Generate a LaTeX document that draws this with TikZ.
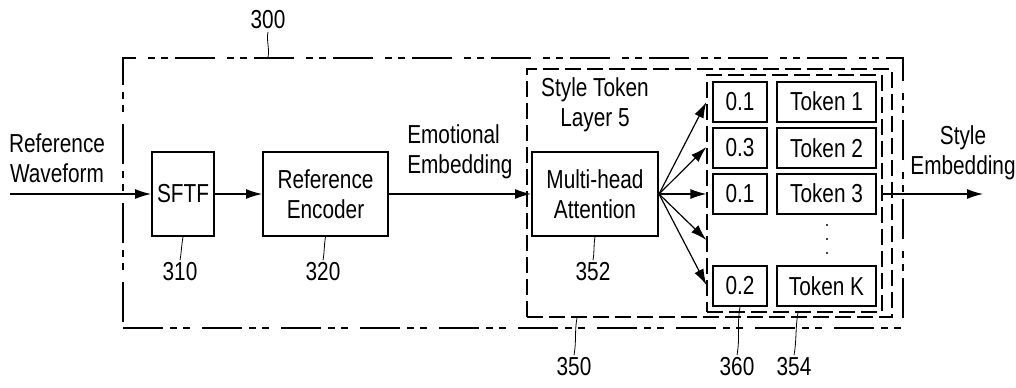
\documentclass[tikz,border=0pt]{standalone}
\usepackage{fontspec}
\setmainfont{Liberation Sans}[FakeStretch=0.8]
\usetikzlibrary{arrows.meta}
\begin{document}
\fontsize{13}{15}\selectfont
\begin{tikzpicture}[x=0.5pt, y=-0.5pt, >={Latex[length=8pt,width=5pt]}, semithick,
    blk/.style = {draw, line width=1pt, rectangle, align=center, inner sep=0pt, minimum width=#1, minimum height=42pt},
    wbox/.style = {draw, line width=1pt, rectangle, inner sep=0pt, minimum width=27pt, minimum height=20pt},
    tbox/.style = {draw, line width=1pt, rectangle, inner sep=0pt, minimum width=49.5pt, minimum height=20pt},
    frame/.style = {draw, line width=0.6pt, rectangle, inner sep=0pt, dash pattern=on 8pt off 3pt},
    lbl/.style = {inner sep=1pt}]
    \useasboundingbox (0,0) rectangle (1016,387);

    % frames
    \node[frame, dash pattern=on 20pt off 3.5pt on 3.5pt off 3pt on 3.5pt off 6pt, minimum width=390pt, minimum height=135pt] (b300) at (513,193) {};
    \node[frame, minimum width=182.5pt, minimum height=124pt] (b350) at (709.5,193) {};
    \node[frame, minimum width=87.5pt, minimum height=118.5pt] (b354) at (794.5,193.5) {};

    % blocks
    \coordinate (in) at (10,194);
    \node[blk=31pt] (sftf) at (183,194) {SFTF};
    \node[blk=62.5pt] (enc) at (325.5,194) {Reference\\Encoder};
    \node[blk=63pt] (mha) at (595,194) {Multi-head\\Attention};

    % weights and tokens
    \node[wbox] (w1) at (740,101.5) {0.1};
    \node[wbox] (w2) at (740,148) {0.3};
    \node[wbox] (w3) at (740,193.5) {0.1};
    \node[wbox] (w4) at (740,286) {0.2};
    \node[tbox] (t1) at (826.5,101.5) {Token 1};
    \node[tbox] (t2) at (826.5,148) {Token 2};
    \node[tbox] (t3) at (826.5,193.5) {Token 3};
    \node[tbox] (t4) at (826.5,286) {Token K};
    \foreach \y in {225,239,253} \fill (827,\y) circle (1.2);

    % texts
    \node[align=center] (wave) at (57,158) {Reference\\Waveform};
    \node[align=left, anchor=west] (emo) at (398,152) {Emotional\\Embedding};
    \node[align=center] (gst) at (595,105) {Style Token\\Layer 5};
    \node[align=center] (out) at (963,153) {Style\\Embedding};
    \coordinate (end) at (983,194);

    % arrows
    \draw[->] (in) -- (sftf);
    \draw[->] (sftf) -- (enc);
    \draw[->] (enc) -- (mha);
    \foreach \y in {102,147,194,240,285}
        \draw[->] (mha.east) -- (b354.west |- 0,\y);
    \draw[->] (b354.east |- end) -- (end);

    % reference numerals
    \node[lbl] (l300) at (268,20) {300};
    \node[lbl] (l310) at (180,272) {310};
    \node[lbl] (l320) at (323,272) {320};
    \node[lbl] (l352) at (593,272) {352};
    \node[lbl] (l350) at (574,367) {350};
    \node[lbl] (l360) at (737,367) {360};
    \node[lbl] (l354) at (794,367) {354};
    \draw[thin] (l300.south) to[out=-100,in=80] (l300.south |- b300.north);
    \draw[thin] (l310.north) to[out=80,in=-100] (sftf.south);
    \draw[thin] (l320.north) to[out=80,in=-100] (enc.south);
    \draw[thin] (l352.north) to[out=80,in=-100] (mha.south);
    \draw[thin] (l350.north) to[out=80,in=-100] (577,0 |- b350.south);
    \draw[thin] (l360.north) to[out=80,in=-100] (w4.south);
    \draw[thin] (l354.north) to[out=80,in=-100] (798,0 |- b354.south);
\end{tikzpicture}
\end{document}
